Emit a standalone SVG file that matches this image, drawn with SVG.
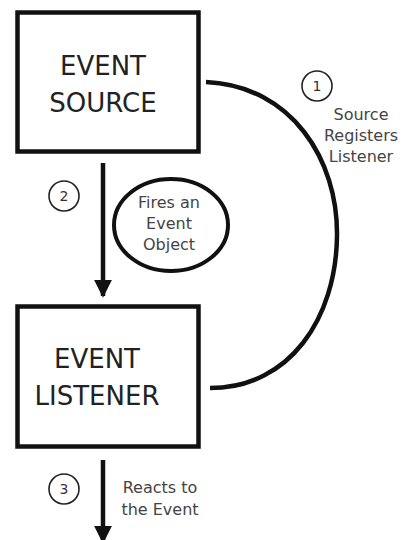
<svg xmlns="http://www.w3.org/2000/svg" width="402" height="540" viewBox="0 0 402 540">
<defs>
<style>
.box{fill:#fff;stroke:#111;stroke-width:4.5}
.big{font-family:"DejaVu Sans",Verdana,sans-serif;font-size:26px;fill:#222;text-anchor:middle}
.lbl{font-family:"DejaVu Sans",Verdana,sans-serif;font-size:16px;fill:#444;text-anchor:middle}
.num{font-family:"DejaVu Sans",Verdana,sans-serif;font-size:14px;fill:#333;text-anchor:middle}
.ring{fill:none;stroke:#222;stroke-width:1.6}
.line{fill:none;stroke:#111;stroke-width:4.5}
</style>
<marker id="ah" viewBox="0 0 10 10" refX="9" refY="5" markerWidth="4" markerHeight="4.5" orient="auto" markerUnits="strokeWidth">
<path d="M0,0 L10,5 L0,10 z" fill="#111"/>
</marker>
</defs>
<rect width="402" height="540" fill="#fff"/>
<g id="connectors">
<path class="line" d="M206,82 C292,86 338,160 337,236 C336,318 290,388 210,388"/>
<line class="line" x1="103" y1="163" x2="103" y2="296" marker-end="url(#ah)"/>
<line class="line" x1="103" y1="460" x2="103" y2="542" marker-end="url(#ah)"/>
</g>
<g id="event-source">
<rect class="box" x="17.5" y="12.5" width="181" height="139"/>
<text class="big" x="103" y="75">EVENT</text>
<text class="big" x="103" y="112">SOURCE</text>
</g>
<g id="event-listener">
<rect class="box" x="17.5" y="306.5" width="181" height="140"/>
<text class="big" x="97" y="368">EVENT</text>
<text class="big" x="97" y="405">LISTENER</text>
</g>
<g id="event-object">
<ellipse cx="171" cy="225" rx="57" ry="46" fill="#fff" stroke="#111" stroke-width="4"/>
<text class="lbl" x="169" y="208">Fires an</text>
<text class="lbl" x="169" y="229">Event</text>
<text class="lbl" x="169" y="250">Object</text>
</g>
<g id="step1">
<circle class="ring" cx="317" cy="86" r="15"/>
<text class="num" x="317" y="91">1</text>
<text class="lbl" x="361" y="120">Source</text>
<text class="lbl" x="361" y="141">Registers</text>
<text class="lbl" x="361" y="162">Listener</text>
</g>
<g id="step2">
<circle class="ring" cx="64" cy="196" r="15"/>
<text class="num" x="64" y="201">2</text>
</g>
<g id="step3">
<circle class="ring" cx="64" cy="489" r="15"/>
<text class="num" x="64" y="494">3</text>
<text class="lbl" x="160" y="493">Reacts to</text>
<text class="lbl" x="160" y="515">the Event</text>
</g>
</svg>
